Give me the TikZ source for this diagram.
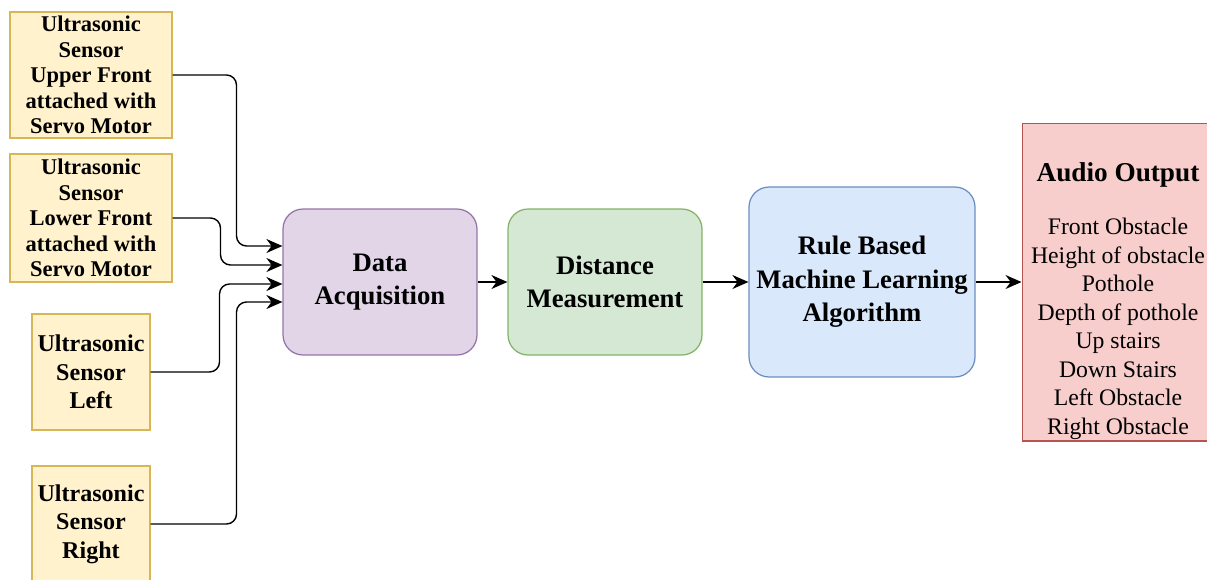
\documentclass[tikz,border=0pt]{standalone}
\usepackage{fontspec}
\setmainfont{LiberationSerif}[Extension=.ttf,UprightFont=*-Regular,BoldFont=*-Bold,
  ItalicFont=*-Italic,BoldItalicFont=*-BoldItalic]
\usetikzlibrary{arrows.meta}
\definecolor{sensfill}{HTML}{FFF2CC}
\definecolor{sensline}{HTML}{D6B656}
\definecolor{acqfill}{HTML}{E1D5E7}
\definecolor{acqline}{HTML}{9673A6}
\definecolor{distfill}{HTML}{D5E8D4}
\definecolor{distline}{HTML}{82B366}
\definecolor{rulefill}{HTML}{DAE8FC}
\definecolor{ruleline}{HTML}{6C8EBF}
\definecolor{outfill}{HTML}{F8CECC}
\definecolor{outline}{HTML}{B85450}
\begin{document}
\begin{tikzpicture}[x=0.02cm,y=-0.02cm,
  sensor/.style={draw=sensline,fill=sensfill,line width=0.6pt,align=center,inner sep=0pt,
    font=\bfseries\fontsize{12.8}{14.5}\selectfont},
  bigsensor/.style={sensor,minimum width=2.36cm,minimum height=2.32cm,
    font=\bfseries\fontsize{13.7}{16.2}\selectfont},
  block/.style={rounded corners=0.4cm,line width=0.7pt,align=center,
    font=\bfseries\fontsize{15.2}{19}\selectfont},
  arr/.style={-{Stealth[length=3.2mm,width=2.8mm]},line width=0.8pt,rounded corners=0.2cm}]
  \clip (0,0) rectangle (1207,579);
  % sensors
  \node[sensor,minimum width=3.24cm,minimum height=2.52cm] (s1) at (91,75)
        {Ultrasonic\\Sensor\\Upper Front\\attached with\\Servo Motor};
  \node[sensor,minimum width=3.24cm,minimum height=2.56cm] (s2) at (91,218)
        {Ultrasonic\\Sensor\\Lower Front\\attached with\\Servo Motor};
  \node[bigsensor] (s3) at (91,372) {Ultrasonic\\Sensor\\Left};
  \node[bigsensor] (s4) at (91,524) {Ultrasonic\\Sensor\\Right};
  % processing
  \node[block,draw=acqline,fill=acqfill,minimum width=3.88cm,minimum height=2.92cm] (da)
        at (380,282) {Data\\Acquisition};
  \node[block,draw=distline,fill=distfill,minimum width=3.88cm,minimum height=2.92cm] (dm)
        at (605,282) {Distance\\Measurement};
  \node[block,draw=ruleline,fill=rulefill,minimum width=4.52cm,minimum height=3.8cm] (rb)
        at (862,282) {Rule Based\\Machine Learning\\Algorithm};
  % output
  \node[draw=outline,fill=outfill,line width=0.6pt,minimum width=3.84cm,minimum height=6.36cm]
        (audio) at (1118,282) {};
  \node[align=center,font=\fontsize{13.5}{16.2}\selectfont] (audiotxt) at ([yshift=-0.38cm]audio.center)
        {{\bfseries\fontsize{15.5}{16.2}\selectfont Audio Output}\\[14pt]
         Front Obstacle\\Height of obstacle\\Pothole\\Depth of pothole\\
         Up stairs\\Down Stairs\\Left Obstacle\\Right Obstacle};
  % connectors
  \draw[arr] (s1.east) -- ++(64,0) |- ([yshift=0.72cm]da.west);
  \draw[arr] (s2.east) -- ++(48,0) |- ([yshift=0.34cm]da.west);
  \draw[arr] (s3.east) -- ++(69,0) |- ([yshift=-0.04cm]da.west);
  \draw[arr] (s4.east) -- ++(86,0) |- ([yshift=-0.4cm]da.west);
  \draw[arr] (da) -- (dm);
  \draw[arr] (dm) -- (rb);
  \draw[arr] (rb) -- (audio);
\end{tikzpicture}
\end{document}
